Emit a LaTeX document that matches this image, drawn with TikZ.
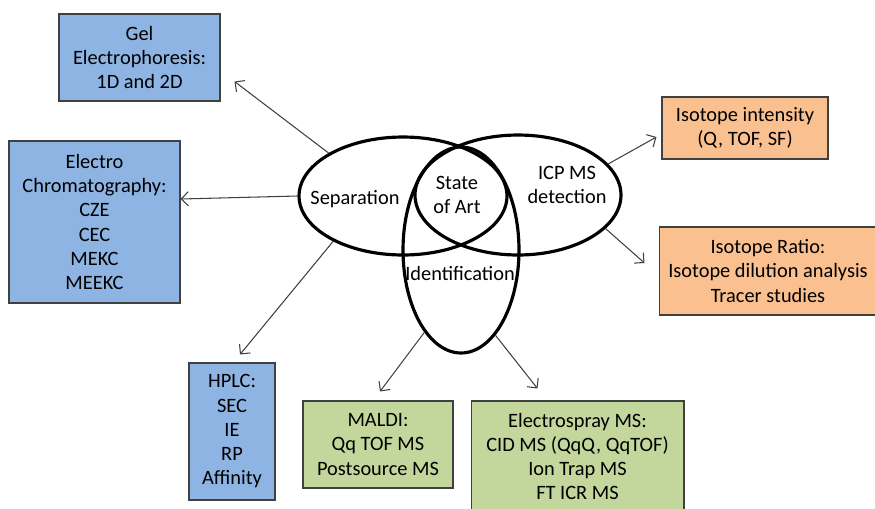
\documentclass[tikz,border=0pt]{standalone}
\usepackage{fontspec}
\setmainfont{Carlito}
\usetikzlibrary{shapes.geometric}
\usetikzlibrary{calc}
\usetikzlibrary{positioning, arrows.meta}

\definecolor{sepblue}{RGB}{142,180,227}
\definecolor{icporange}{RGB}{250,192,144}
\definecolor{idgreen}{RGB}{195,214,155}
\definecolor{edgegray}{RGB}{64,64,64}

\begin{document}
\begin{tikzpicture}[x=0.02cm, y=-0.02cm, font=\fontsize{11.6}{13.8}\selectfont]
        \useasboundingbox (0,0) rectangle (875,508);
        % Define styles for shapes
        \tikzstyle{box} = [draw=edgegray, line width=0.6pt, align=center, inner sep=0pt]
        \tikzstyle{oval} = [draw, ellipse, line width=1.8pt, inner sep=0pt]
        \tikzstyle{link} = [draw=edgegray, line width=0.6pt, -{Straight Barb[length=4pt, width=8pt]}]

        % Draw shapes
        \node[oval, minimum width=4.16cm, minimum height=2.36cm] (sep) at (403, 196) {};
        \node[oval, minimum width=4.12cm, minimum height=2.40cm] (icp) at (518, 195) {};
        \node[oval, minimum width=2.32cm, minimum height=4.12cm] (iden) at (461, 250) {};

        \node (septext) at (355, 199) {Separation};
        \node[align=center] (arttext) at (457, 195) {State\\of Art};
        \node[align=center] (icptext) at (567, 185) {ICP MS\\detection};
        \node (identext) at (460, 273) {Identification};

        \node[box, fill=sepblue, minimum width=3.22cm, minimum height=1.74cm] (gel) at (139.5, 57.5) {
                Gel\\
                Electrophoresis:\\
                1D and 2D
        };
        \node[box, fill=sepblue, minimum width=3.42cm, minimum height=3.24cm] (ec) at (94.5, 222) {
                Electro\\
                Chromatography:\\
                CZE\\
                CEC\\
                MEKC\\
                MEEKC
        };
        \node[box, fill=sepblue, minimum width=1.72cm, minimum height=2.74cm] (hplc) at (232, 431.5) {
                HPLC:\\
                SEC\\
                IE\\
                RP\\
                Affinity
        };
        \node[box, fill=idgreen, minimum width=3.0cm, minimum height=1.74cm] (maldi) at (378, 444.5) {
                MALDI:\\
                Qq TOF MS\\
                Postsource MS
        };
        \node[box, fill=idgreen, minimum width=4.26cm, minimum height=2.22cm] (esi) at (577.5, 456.5) {
                Electrospray MS:\\
                CID MS (QqQ, QqTOF)\\
                Ion Trap MS\\
                FT ICR MS
        };
        \node[box, fill=icporange, minimum width=3.32cm, minimum height=1.24cm] (isoint) at (745, 128) {
                Isotope intensity\\
                (Q, TOF, SF)
        };
        \node[box, fill=icporange, minimum width=4.36cm, minimum height=1.76cm] (isorat) at (768, 271) {
                Isotope Ratio:\\
                Isotope dilution analysis\\
                Tracer studies
        };

        % Draw arrows
        \draw[link] (sep.150.7) -- ($(gel.east)+(14,24)$);
        \draw[link] (sep.180) -- ($(ec.east)+(0,-23)$);
        \draw[link] (sep.213) -- ($(hplc.north)+(8,-8)$);
        \draw[link] (iden.246.4) -- ($(maldi.north)+(2,-9)$);
        \draw[link] (iden.292.3) -- ($(esi.north west)+(67,-12)$);
        \draw[link] (icp.19.8) -- ($(isoint.west)+(-5,9)$);
        \draw[link] (icp.339.4) -- ($(isorat.west)+(-14,-8)$);
    \end{tikzpicture}
\end{document}
